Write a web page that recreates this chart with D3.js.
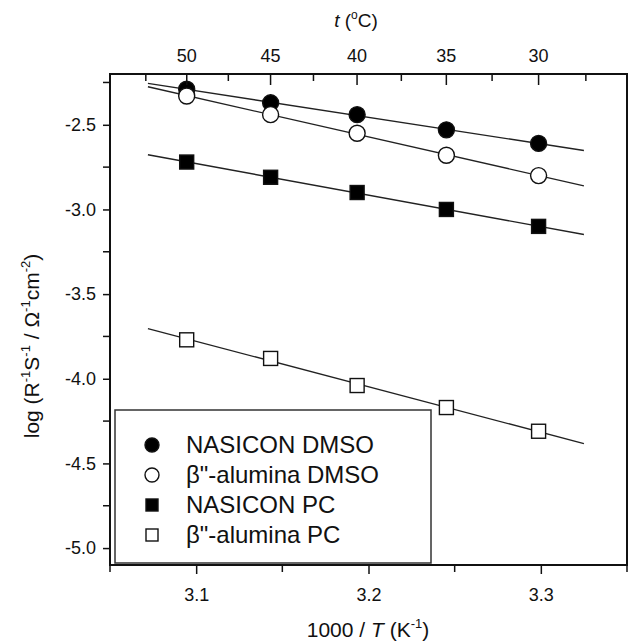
<!DOCTYPE html>
<html>
<head>
<meta charset="utf-8">
<script src="https://cdn.jsdelivr.net/npm/d3@7"></script>
<style>
  body { margin: 0; background: #fff; }
  svg text { font-family: "Liberation Sans", Arial, sans-serif; fill: #111; }
</style>
</head>
<body>
<div id="chart"></div>
<script>
// 1000/T values of the measurement temperatures
const invT = [3.0945, 3.1432, 3.1934, 3.2452, 3.2987];
const tempLabels = [50, 45, 40, 35, 30];
const tempMinor = [52.5, 47.5, 42.5, 37.5, 32.5, 27.5];

const nasiconDMSO = [-2.29, -2.37, -2.44, -2.53, -2.61];
const aluminaDMSO = [-2.33, -2.44, -2.55, -2.68, -2.80];
const nasiconPC = [-2.72, -2.81, -2.90, -3.00, -3.10];
const aluminaPC = [-3.77, -3.88, -4.04, -4.17, -4.31];

const seriesNames = ["NASICON DMSO", "β\"-alumina DMSO", "NASICON PC", "β\"-alumina PC"];
const xTicks = [3.1, 3.2, 3.3];
const xMinor = [3.05, 3.15, 3.25, 3.35];
const yTicks = [-2.5, -3.0, -3.5, -4.0, -4.5, -5.0];
const yMinor = [-2.25, -2.75, -3.25, -3.75, -4.25, -4.75];

const width = 630, height = 642;
const plotLeft = 110, plotRight = 627, plotTop = 74, plotBottom = 565;

const svg = d3.select("#chart").append("svg")
    .attr("width", width)
    .attr("height", height);

const x = d3.scaleLinear().domain([3.05, 3.35]).range([plotLeft, plotRight]);
const y = d3.scaleLinear().domain([-5.1, -2.2]).range([plotBottom, plotTop]);
const tToX = (t) => x(1000 / (t + 273.15));

const series = [
    { name: seriesNames[0], values: nasiconDMSO, shape: "circle", fill: "#000" },
    { name: seriesNames[1], values: aluminaDMSO, shape: "circle", fill: "#fff" },
    { name: seriesNames[2], values: nasiconPC, shape: "square", fill: "#000" },
    { name: seriesNames[3], values: aluminaPC, shape: "square", fill: "#fff" },
];

// least squares fit lines
const lineFrom = 3.072, lineTo = 3.325;
series.forEach((s) => {
    const mx = d3.mean(invT), my = d3.mean(s.values);
    const slope = d3.sum(invT, (v, i) => (v - mx) * (s.values[i] - my)) /
        d3.sum(invT, (v) => (v - mx) * (v - mx));
    const f = (v) => my + slope * (v - mx);
    svg.append("line")
        .attr("x1", x(lineFrom)).attr("y1", y(f(lineFrom)))
        .attr("x2", x(lineTo)).attr("y2", y(f(lineTo)))
        .attr("stroke", "#222").attr("stroke-width", 1.4);
});

function drawMarker(g, shape, fill, cx, cy, size) {
    if (shape === "circle") {
        g.append("circle")
            .attr("cx", cx).attr("cy", cy).attr("r", size / 2)
            .attr("fill", fill).attr("stroke", "#111").attr("stroke-width", 1.4);
    } else {
        g.append("rect")
            .attr("x", cx - size / 2).attr("y", cy - size / 2)
            .attr("width", size).attr("height", size)
            .attr("fill", fill).attr("stroke", "#111").attr("stroke-width", 1.4);
    }
}

series.forEach((s) => {
    const g = svg.append("g");
    s.values.forEach((v, i) => {
        drawMarker(g, s.shape, s.fill, x(invT[i]), y(v), s.shape === "circle" ? 16 : 14);
    });
});

// frame
svg.append("rect")
    .attr("x", plotLeft).attr("y", plotTop)
    .attr("width", plotRight - plotLeft).attr("height", plotBottom - plotTop)
    .attr("fill", "none").attr("stroke", "#111").attr("stroke-width", 2);

// bottom axis
const xAxis = svg.append("g")
    .attr("transform", `translate(0, ${plotBottom})`)
    .call(d3.axisBottom(x).tickValues(xTicks).tickSize(9).tickSizeOuter(0).tickFormat((d) => d.toFixed(1)));
xAxis.append("g").selectAll("line").data(xMinor).join("line")
    .attr("x1", (d) => x(d)).attr("x2", (d) => x(d))
    .attr("y1", 0).attr("y2", 7).attr("stroke", "#111").attr("stroke-width", 1.5);

// left axis
const yAxis = svg.append("g")
    .attr("transform", `translate(${plotLeft}, 0)`)
    .call(d3.axisLeft(y).tickValues(yTicks).tickSize(7).tickSizeOuter(0).tickFormat((d) => d.toFixed(1)));
yAxis.append("g").selectAll("line").data(yMinor).join("line")
    .attr("y1", (d) => y(d)).attr("y2", (d) => y(d))
    .attr("x1", 0).attr("x2", -7).attr("stroke", "#111").attr("stroke-width", 1.5);

[xAxis, yAxis].forEach((a) => {
    a.select(".domain").remove();
    a.selectAll(".tick line").attr("stroke", "#111").attr("stroke-width", 1.5);
    a.selectAll("text").attr("font-size", 18).attr("fill", "#111")
        .attr("font-family", "Liberation Sans, Arial, sans-serif");
});
xAxis.selectAll(".tick text").attr("y", 23);
yAxis.selectAll(".tick text").attr("x", -14);

// top axis (temperature)
const topG = svg.append("g");
topG.selectAll("line.major").data(tempLabels).join("line")
    .attr("class", "major")
    .attr("x1", tToX).attr("x2", tToX)
    .attr("y1", plotTop).attr("y2", plotTop + 11)
    .attr("stroke", "#111").attr("stroke-width", 1.5);
topG.selectAll("line.minor").data(tempMinor).join("line")
    .attr("class", "minor")
    .attr("x1", tToX).attr("x2", tToX)
    .attr("y1", plotTop).attr("y2", plotTop + 7)
    .attr("stroke", "#111").attr("stroke-width", 1.5);
topG.selectAll("text").data(tempLabels).join("text")
    .attr("x", tToX).attr("y", plotTop - 12)
    .attr("text-anchor", "middle").attr("font-size", 18)
    .text((d) => d);

// titles
const topTitle = svg.append("text")
    .attr("x", 356).attr("y", 27)
    .attr("text-anchor", "middle").attr("font-size", 19);
topTitle.append("tspan").attr("font-style", "italic").text("t");
topTitle.append("tspan").text(" (");
topTitle.append("tspan").attr("font-size", 12).attr("dy", -8).text("o");
topTitle.append("tspan").attr("dy", 8).text("C)");

const xTitle = svg.append("text")
    .attr("x", 368).attr("y", 637)
    .attr("text-anchor", "middle").attr("font-size", 21);
xTitle.append("tspan").text("1000 / ");
xTitle.append("tspan").attr("font-style", "italic").text("T");
xTitle.append("tspan").text(" (K");
xTitle.append("tspan").attr("font-size", 13).attr("dy", -9).text("-1");
xTitle.append("tspan").attr("dy", 9).text(")");

const yTitle = svg.append("text")
    .attr("transform", "translate(39, 346) rotate(-90)")
    .attr("text-anchor", "middle").attr("font-size", 21);
yTitle.append("tspan").text("log (R");
yTitle.append("tspan").attr("font-size", 13).attr("dy", -9).text("-1");
yTitle.append("tspan").attr("dy", 9).text("S");
yTitle.append("tspan").attr("font-size", 13).attr("dy", -9).text("-1");
yTitle.append("tspan").attr("dy", 9).text(" / Ω");
yTitle.append("tspan").attr("font-size", 13).attr("dy", -9).text("-1");
yTitle.append("tspan").attr("dy", 9).text("cm");
yTitle.append("tspan").attr("font-size", 13).attr("dy", -9).text("-2");
yTitle.append("tspan").attr("dy", 9).text(")");

// legend
const legend = svg.append("g");
legend.append("rect")
    .attr("x", 115).attr("y", 410).attr("width", 316).attr("height", 153)
    .attr("fill", "#fff").attr("stroke", "#333").attr("stroke-width", 1.5);
series.forEach((s, i) => {
    const cy = 445 + i * 30;
    drawMarker(legend, s.shape, s.fill, 152, cy, s.shape === "circle" ? 14 : 12);
    legend.append("text")
        .attr("x", 186).attr("y", cy + 8)
        .attr("font-size", 24)
        .text(s.name);
});
</script>
</body>
</html>
